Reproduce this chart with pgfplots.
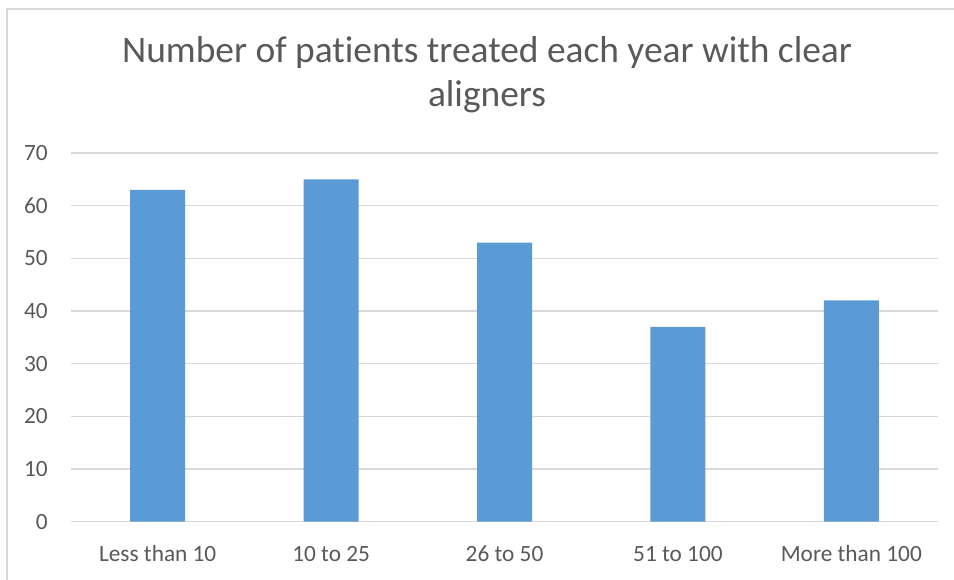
\documentclass[border=0pt]{standalone}
\usepackage{pgfplots}
\pgfplotsset{compat=1.18}
\usepackage{fontspec}
\setmainfont[Ligatures=NoCommon]{Carlito}
\definecolor{barblue}{HTML}{5B9BD5}
\definecolor{gridgray}{HTML}{D9D9D9}
\definecolor{textgray}{HTML}{595959}
\begin{document}
\begin{tikzpicture}[x=1bp,y=1bp]
\useasboundingbox (0,0) rectangle (954,580);
\draw[gridgray, line width=1.2bp] (7,571) rectangle (990,-30);
\node[anchor=base, text=textgray, font=\fontsize{37.4bp}{44bp}\selectfont] at (487,517) {Number of pat\kern0pt ients treated each year with clear};
\node[anchor=base, text=textgray, font=\fontsize{37.4bp}{44bp}\selectfont] at (487,473) {aligners};
\begin{axis}[
  at={(71bp,58.3bp)}, anchor=south west,
  scale only axis, width=867bp, height=368.7bp,
  xmin=-0.5, xmax=4.5, ymin=0, ymax=70,
  ytick={0,10,...,70},
  xtick={0,1,2,3,4},
  xticklabels={Less than 10, 10 to 25, 26 to 50, 51 to 100, More than 100},
  axis line style={draw=none},
  major tick style={draw=none},
  ymajorgrids, grid style={gridgray, line width=1.2bp},
  /pgf/number format/assume math mode=true,
  ticklabel style={text=textgray, font=\fontsize{23.3bp}{27bp}\selectfont, inner sep=0pt},
  yticklabel style={anchor=east, xshift=-23bp},
  xticklabel style={anchor=base, yshift=-39.5bp},
  axis on top=false,
]
\addplot[ybar, bar width=55bp, fill=barblue, draw=none] coordinates {(0,63) (1,65) (2,53) (3,37) (4,42)};
\end{axis}
\end{tikzpicture}
\end{document}
